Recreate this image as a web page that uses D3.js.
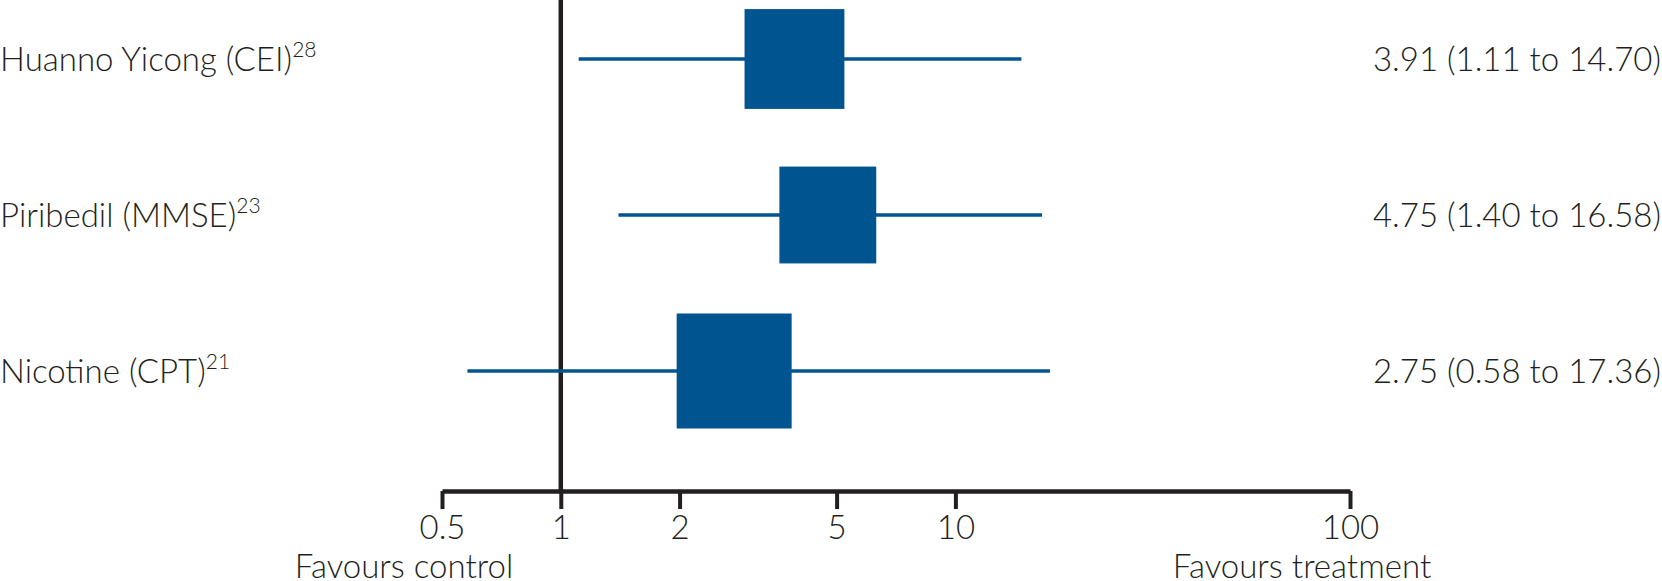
<!DOCTYPE html>
<html>
<head>
<meta charset="utf-8">
<script src="https://cdn.jsdelivr.net/npm/d3@7"></script>
<style>
  body { margin: 0; background: #fff; }
  svg { display: block; }
  text { font-family: Lato, "Open Sans", sans-serif; font-weight: 300; fill: #231f20; }
</style>
</head>
<body>
<div id="chart"></div>
<script>
// study rows, top to bottom
var studies = ["Huanno Yicong (CEI)", "Piribedil (MMSE)", "Nicotine (CPT)"];
var refs = ["28", "23", "21"];
var estimate = [3.91, 4.75, 2.75];
var lower = [1.11, 1.40, 0.58];
var upper = [14.70, 16.58, 17.36];
// relative weight (%)
var weight = [30.6, 28.8, 40.6];
var ticks = [0.5, 1, 2, 5, 10, 100];

var width = 1662, height = 581;

var svg = d3.select("#chart").append("svg")
    .attr("width", width)
    .attr("height", height);

var x = d3.scaleLog()
    .domain([0.5, 100])
    .range([442, 1350]);

var y = d3.scalePoint()
    .domain(studies)
    .range([59, 371]);

var box = d3.scaleSqrt()
    .domain([0, d3.max(weight)])
    .range([0, 115]);

var axisY = 491;

var rows = studies.map(function(s, i) {
  return {name: s, ref: refs[i], est: estimate[i], lo: lower[i], hi: upper[i], w: weight[i]};
});

// line of no effect
svg.append("line")
    .attr("x1", x(1)).attr("x2", x(1))
    .attr("y1", 0).attr("y2", axisY)
    .attr("stroke", "#231f20")
    .attr("stroke-width", 4.5);

// confidence intervals
svg.append("g").selectAll("line")
    .data(rows)
  .enter().append("line")
    .attr("x1", function(d) { return x(d.lo); })
    .attr("x2", function(d) { return x(d.hi); })
    .attr("y1", function(d) { return y(d.name); })
    .attr("y2", function(d) { return y(d.name); })
    .attr("stroke", "#00548f")
    .attr("stroke-width", 3.5);

// point estimates
svg.append("g").selectAll("rect")
    .data(rows)
  .enter().append("rect")
    .attr("x", function(d) { return x(d.est) - box(d.w) / 2; })
    .attr("y", function(d) { return y(d.name) - box(d.w) / 2; })
    .attr("width", function(d) { return box(d.w); })
    .attr("height", function(d) { return box(d.w); })
    .attr("fill", "#00548f");

// study labels
var lab = svg.append("g").selectAll("text")
    .data(rows)
  .enter().append("text")
    .attr("x", 0)
    .attr("y", function(d) { return y(d.name) + 11.5; })
    .style("font-size", "33px");
lab.append("tspan").text(function(d) { return d.name; });
lab.append("tspan")
    .attr("dy", -14)
    .style("font-size", "21px")
    .text(function(d) { return d.ref; });

// estimates with CI
svg.append("g").selectAll("text")
    .data(rows)
  .enter().append("text")
    .attr("x", 1661)
    .attr("y", function(d) { return y(d.name) + 12; })
    .attr("text-anchor", "end")
    .style("font-size", "33px")
    .text(function(d) { return d.est.toFixed(2) + " (" + d.lo.toFixed(2) + " to " + d.hi.toFixed(2) + ")"; });

// x axis
var ax = svg.append("g")
    .attr("transform", "translate(0," + axisY + ")")
    .call(d3.axisBottom(x)
      .tickValues(ticks)
      .tickFormat(d3.format("~g"))
      .tickSize(18)
      .tickSizeOuter(0)
      .tickPadding(7));

ax.select(".domain")
    .attr("stroke", "#231f20")
    .attr("stroke-width", 4.5);
ax.selectAll(".tick line")
    .attr("stroke", "#231f20")
    .attr("stroke-width", 4);
ax.selectAll(".tick text")
    .attr("fill", "#231f20")
    .style("font-family", "Lato, 'Open Sans', sans-serif")
    .style("font-weight", 300)
    .style("font-size", "33px");

svg.append("text")
    .attr("x", x(0.5) - 38)
    .attr("y", 578)
    .attr("text-anchor", "middle")
    .style("font-size", "33px")
    .text("Favours control");

svg.append("text")
    .attr("x", x(100) - 48)
    .attr("y", 578)
    .attr("text-anchor", "middle")
    .style("font-size", "33px")
    .text("Favours treatment");
</script>
</body>
</html>
